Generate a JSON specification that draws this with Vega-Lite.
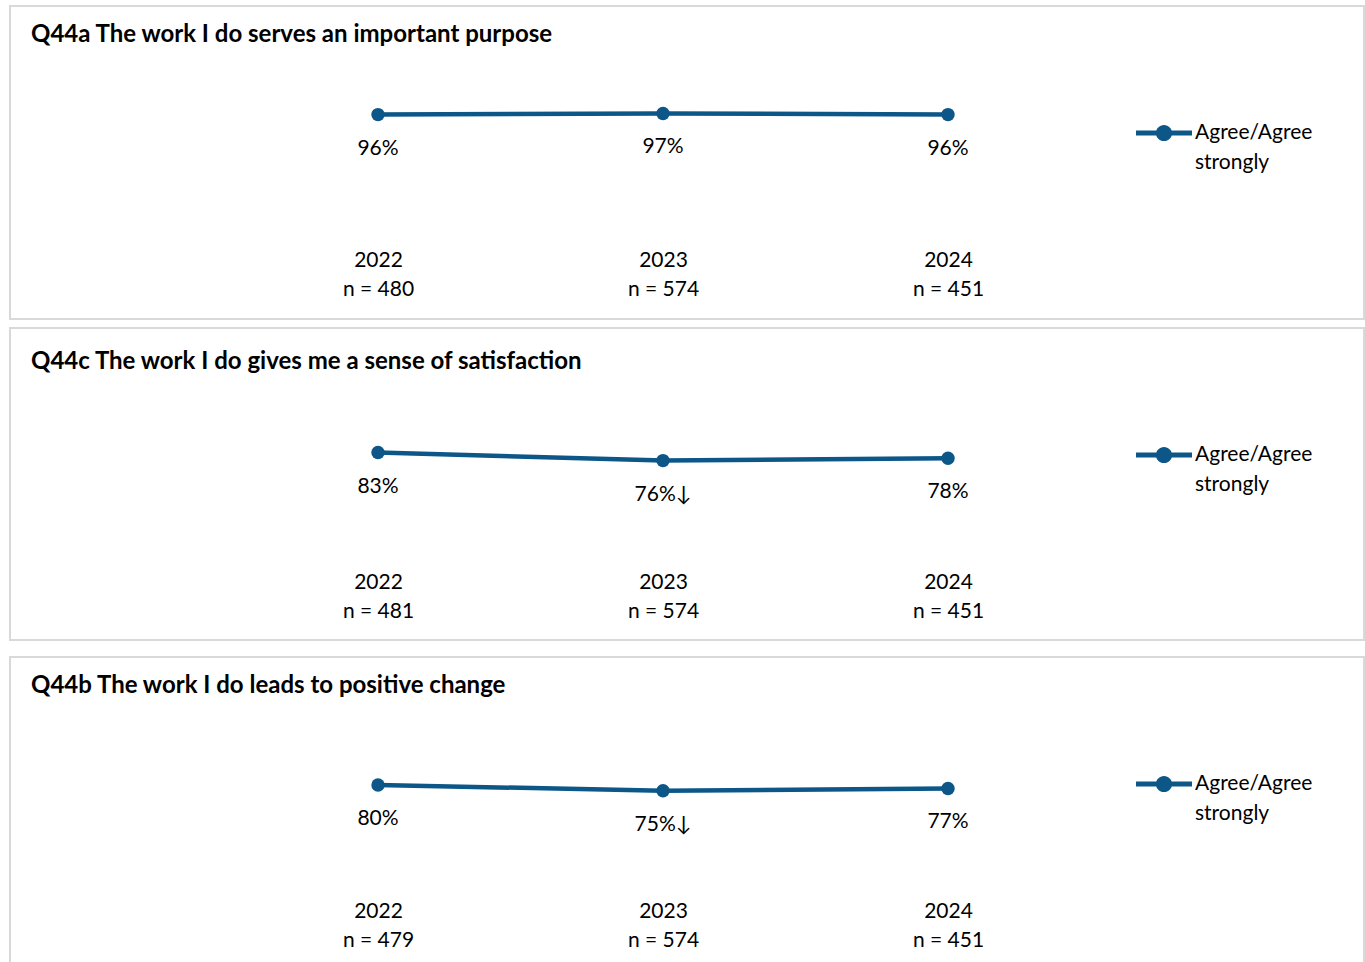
{
  "$schema": "https://vega.github.io/schema/vega-lite/v6.json",
  "padding": {"left": 9, "top": 5, "right": 0, "bottom": 0},
  "background": "white",
  "config": {
    "font": "Lato",
    "view": {"stroke": "#d9d9d9", "strokeWidth": 2},
    "style": {"guide-label": {"lineHeight": 30}},
    "title": {"font": "Lato", "fontSize": 24, "fontWeight": "bold", "color": "#000000", "anchor": "start", "frame": "group", "orient": "top", "baseline": "middle", "offset": 0, "dx": 21},
    "axisX": {"title": null, "domain": false, "ticks": false, "grid": false, "labelFont": "Lato", "labelFontSize": 21, "labelColor": "#000000", "labelLineHeight": 29, "labelBaseline": "top", "labelPadding": 2, "labelAngle": 0, "labelExpr": "split(datum.value, '|')"},
    "axisY": {"disable": true}
  },
  "datasets": {
    "q44a": [
      {"period": "2022|n = 480", "value": 96, "label": "96%", "series": "Agree/Agree strongly"},
      {"period": "2023|n = 574", "value": 97, "label": "97%", "series": "Agree/Agree strongly"},
      {"period": "2024|n = 451", "value": 96, "label": "96%", "series": "Agree/Agree strongly"}
    ],
    "q44c": [
      {"period": "2022|n = 481", "value": 83, "label": "83%", "series": "Agree/Agree strongly"},
      {"period": "2023|n = 574", "value": 76, "label": "76%↓", "series": "Agree/Agree strongly"},
      {"period": "2024|n = 451", "value": 78, "label": "78%", "series": "Agree/Agree strongly"}
    ],
    "q44b": [
      {"period": "2022|n = 479", "value": 80, "label": "80%", "series": "Agree/Agree strongly"},
      {"period": "2023|n = 574", "value": 75, "label": "75%↓", "series": "Agree/Agree strongly"},
      {"period": "2024|n = 451", "value": 77, "label": "77%", "series": "Agree/Agree strongly"}
    ]
  },
  "spacing": 15,
  "resolve": {"scale": {"x": "independent", "y": "independent", "color": "independent"}, "legend": {"color": "independent"}},
  "vconcat": [
    {
      "spacing": 7,
      "resolve": {"scale": {"x": "independent", "y": "independent", "color": "independent"}, "legend": {"color": "independent"}},
      "vconcat": [
        {
          "title": {"text": "Q44a The work I do serves an important purpose", "dy": 45},
          "width": 1354,
          "height": 313,
          "data": {"name": "q44a"},
          "encoding": {
            "x": {"field": "period", "type": "ordinal", "sort": null, "scale": {"type": "point", "padding": 0, "range": [368, 938]}, "axis": {"offset": -72}},
            "y": {"field": "value", "type": "quantitative", "scale": {"domain": [0, 100], "range": [219, 104]}}
          },
          "layer": [
            {"mark": {"type": "line", "strokeWidth": 4.5, "color": "#0c5788"}},
            {"mark": {"type": "point", "filled": true, "size": 180, "opacity": 1}, "encoding": {"color": {"field": "series", "type": "nominal", "scale": {"range": ["#0c5788"]}, "legend": {"orient": "none", "legendX": 1126, "legendY": 99, "title": null, "labelFont": "Lato", "labelFontSize": 21, "labelColor": "#000000", "labelOffset": 3, "labelBaseline": "middle", "symbolType": "M-1,-0.09L1,-0.09L1,0.09L-1,0.09Z M0.29,0A0.29,0.29,0,1,1,-0.29,0A0.29,0.29,0,1,1,0.29,0Z", "symbolSize": 3136, "symbolFillColor": "#0c5788", "symbolStrokeWidth": 0, "padding": 0, "labelExpr": "split(datum.label, ' ')", "labelLimit": 300}}}},
            {"mark": {"type": "text", "dy": 34, "fontSize": 21, "font": "Lato", "color": "#000000"}, "encoding": {"text": {"field": "label"}}}
          ]
        },
        {
          "title": {"text": "Q44c The work I do gives me a sense of satisfaction", "dy": 50},
          "width": 1354,
          "height": 312,
          "data": {"name": "q44c"},
          "encoding": {
            "x": {"field": "period", "type": "ordinal", "sort": null, "scale": {"type": "point", "padding": 0, "range": [368, 938]}, "axis": {"offset": -71}},
            "y": {"field": "value", "type": "quantitative", "scale": {"domain": [0, 100], "range": [220, 105]}}
          },
          "layer": [
            {"mark": {"type": "line", "strokeWidth": 4.5, "color": "#0c5788"}},
            {"mark": {"type": "point", "filled": true, "size": 180, "opacity": 1}, "encoding": {"color": {"field": "series", "type": "nominal", "scale": {"range": ["#0c5788"]}, "legend": {"orient": "none", "legendX": 1126, "legendY": 99, "title": null, "labelFont": "Lato", "labelFontSize": 21, "labelColor": "#000000", "labelOffset": 3, "labelBaseline": "middle", "symbolType": "M-1,-0.09L1,-0.09L1,0.09L-1,0.09Z M0.29,0A0.29,0.29,0,1,1,-0.29,0A0.29,0.29,0,1,1,0.29,0Z", "symbolSize": 3136, "symbolFillColor": "#0c5788", "symbolStrokeWidth": 0, "padding": 0, "labelExpr": "split(datum.label, ' ')", "labelLimit": 300}}}},
            {"mark": {"type": "text", "dy": 34, "fontSize": 21, "font": "Lato", "color": "#000000"}, "encoding": {"text": {"field": "label"}}}
          ]
        }
      ]
    },
    {
      "title": {"text": "Q44b The work I do leads to positive change", "dy": 45},
      "width": 1354,
      "height": 320,
      "data": {"name": "q44b"},
      "encoding": {
        "x": {"field": "period", "type": "ordinal", "sort": null, "scale": {"type": "point", "padding": 0, "range": [368, 938]}, "axis": {"offset": -79}},
        "y": {"field": "value", "type": "quantitative", "scale": {"domain": [0, 100], "range": [220, 105]}}
      },
      "layer": [
        {"mark": {"type": "line", "strokeWidth": 4.5, "color": "#0c5788"}},
        {"mark": {"type": "point", "filled": true, "size": 180, "opacity": 1}, "encoding": {"color": {"field": "series", "type": "nominal", "scale": {"range": ["#0c5788"]}, "legend": {"orient": "none", "legendX": 1126, "legendY": 99, "title": null, "labelFont": "Lato", "labelFontSize": 21, "labelColor": "#000000", "labelOffset": 3, "labelBaseline": "middle", "symbolType": "M-1,-0.09L1,-0.09L1,0.09L-1,0.09Z M0.29,0A0.29,0.29,0,1,1,-0.29,0A0.29,0.29,0,1,1,0.29,0Z", "symbolSize": 3136, "symbolFillColor": "#0c5788", "symbolStrokeWidth": 0, "padding": 0, "labelExpr": "split(datum.label, ' ')", "labelLimit": 300}}}},
        {"mark": {"type": "text", "dy": 34, "fontSize": 21, "font": "Lato", "color": "#000000"}, "encoding": {"text": {"field": "label"}}}
      ]
    }
  ]
}
